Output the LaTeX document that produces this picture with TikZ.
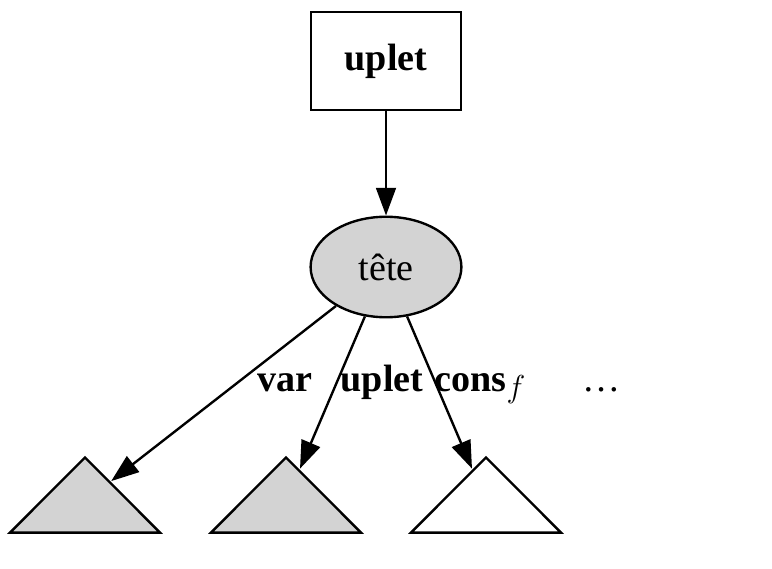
\documentclass[tikz,border=0pt]{standalone}
\usepackage{fontspec}
\setmainfont{Liberation Serif}
\usetikzlibrary{shapes.geometric,arrows.meta}
\definecolor{lgray}{HTML}{D3D3D3}

\begin{document}
\begin{tikzpicture}[x=0.378pt,y=-0.378pt,
  every node/.style={font=\fontsize{14.4}{17}\selectfont},
  box/.style={draw,line width=0.9pt,minimum width=56.7pt,minimum height=37pt,inner sep=0pt},
  oval/.style={draw,ellipse,fill=lgray,line width=0.9pt,minimum width=57pt,minimum height=38pt,inner sep=0pt},
  tri/.style={draw,isosceles triangle,shape border rotate=90,isosceles triangle stretches,
    minimum width=56.7pt,minimum height=28.4pt,inner sep=0pt,line width=0.9pt},
  edge/.style={line width=0.9pt,-{Triangle[length=10.5pt,width=7.5pt]}},
  lbl/.style={anchor=base,inner sep=0pt}]
\useasboundingbox (0,0) rectangle (772,569);
\node[box] (top) at (386,61) {\textbf{uplet}};
\node[oval] (tete) at (386,267) {tête};
\node[tri,fill=lgray] (t1) at (85,501.5) {};
\node[tri,fill=lgray] (t2) at (286,501.5) {};
\node[tri,fill=white] (t3) at (486,501.5) {};
\draw[edge] (top) -- (tete);
\draw[edge] (tete) -- (t1);
\draw[edge] (tete) -- (t2);
\draw[edge] (tete) -- (t3);
\node[lbl] (lvar) at (285,391) {\textbf{var}};
\node[lbl] (luplet) at (382,391) {\textbf{uplet}};
\node[lbl] (lcons) at (480,391) {\textbf{cons}\raisebox{-0.35ex}{\fontsize{11.5}{13}\selectfont$f$}};
\node[lbl] (ldots) at (602,391) {\ldots};
\end{tikzpicture}
\end{document}
